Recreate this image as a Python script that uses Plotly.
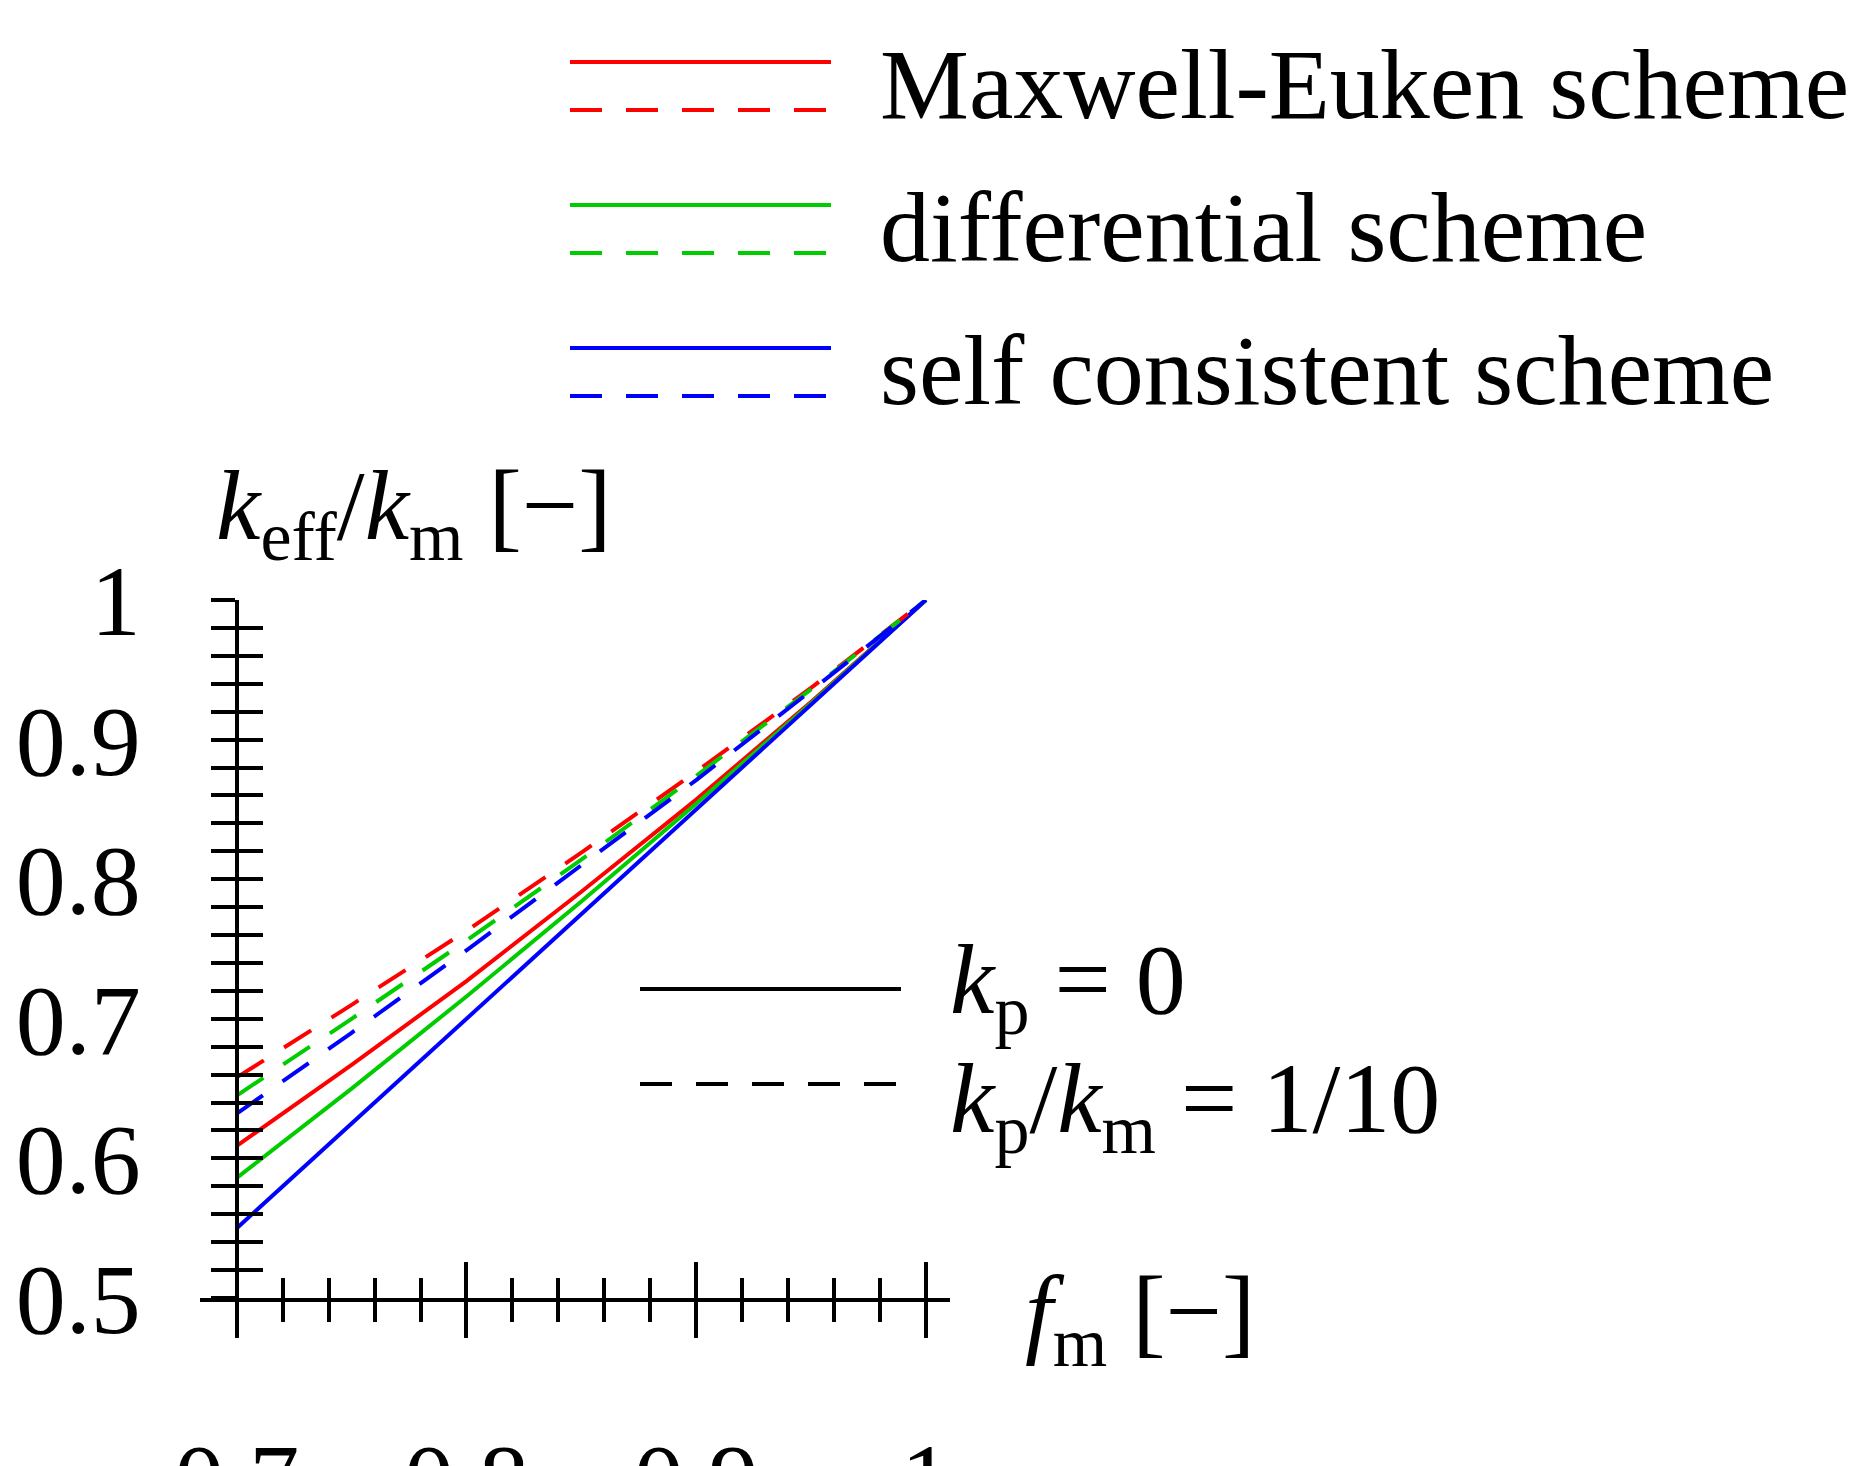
import plotly.graph_objects as go

f_m = [0.7, 0.75, 0.8, 0.85, 0.9, 0.95, 1.0]
me_k0 = [0.609, 0.667, 0.727, 0.791, 0.857, 0.927, 1.0]
diff_k0 = [0.586, 0.650, 0.716, 0.784, 0.854, 0.926, 1.0]
sc_k0 = [0.550, 0.625, 0.700, 0.775, 0.850, 0.925, 1.0]
me_k01 = [0.658, 0.710, 0.763, 0.819, 0.877, 0.937, 1.0]
diff_k01 = [0.645, 0.700, 0.756, 0.814, 0.874, 0.936, 1.0]
sc_k01 = [0.632, 0.690, 0.749, 0.810, 0.871, 0.935, 1.0]
x_ticks = [0.7, 0.8, 0.9, 1.0]
x_ticklabels = ["0.7", "0.8", "0.9", "1"]
y_ticks = [0.5, 0.6, 0.7, 0.8, 0.9, 1.0]
y_ticklabels = ["0.5", "0.6", "0.7", "0.8", "0.9", "1"]

RED, GREEN, BLUE = "#ff0000", "#00cc00", "#0000ff"
DASH = "32px,24px"
FONT = "Liberation Serif"
W, H = 1873, 1466
L, R, T, B = 192, 942, 592, 1290
XR = [0.684, 1.0105]
LW = 4

def px(x):
    return (x - L) / (R - L)

def py(y):
    return (B - y) / (B - T)

fig = go.Figure()
series = [(me_k0, RED, "solid"), (diff_k0, GREEN, "solid"), (sc_k0, BLUE, "solid"),
          (me_k01, RED, DASH), (diff_k01, GREEN, DASH), (sc_k01, BLUE, DASH)]
for ys, c, d in series:
    fig.add_trace(go.Scatter(x=f_m, y=ys, mode="lines",
                             line=dict(color=c, width=LW, dash=d), showlegend=False))
fig.add_trace(go.Scatter(x=[0.7], y=[0.5], xaxis="x2", yaxis="y2", mode="markers",
                         marker=dict(opacity=0), showlegend=False, hoverinfo="skip"))

ypos = (0.7 - XR[0]) / (XR[1] - XR[0])
common_x = dict(range=XR, showgrid=False, zeroline=False, showline=True, automargin=False,
                linecolor="black", linewidth=LW, tickcolor="black", tickwidth=LW)
common_y = dict(range=[0.5, 1.0], showgrid=False, zeroline=False, showline=True, automargin=False,
                linecolor="black", linewidth=LW, tickcolor="black", tickwidth=LW,
                anchor="free", position=ypos)

fig.update_layout(
    width=W, height=H, plot_bgcolor="white", paper_bgcolor="white",
    margin=dict(l=L, r=W - R, t=T, b=H - B, autoexpand=False),
    font=dict(family=FONT, size=100, color="black"),
    xaxis=dict(**common_x, tickvals=x_ticks, ticktext=x_ticklabels, ticks="outside",
               ticklen=36, ticklabelstandoff=55,
               minor=dict(dtick=0.02, tick0=0.7, ticks="outside", ticklen=20,
                          tickwidth=LW, tickcolor="black")),
    xaxis2=dict(**common_x, overlaying="x", side="bottom", anchor="y", ticks="inside",
                tickvals=x_ticks, ticklen=36, showticklabels=False,
                minor=dict(dtick=0.02, tick0=0.7, ticks="inside", ticklen=20,
                           tickwidth=LW, tickcolor="black")),
    yaxis=dict(**common_y, tickvals=y_ticks, ticktext=y_ticklabels, ticks="outside",
               ticklen=24, ticklabelstandoff=50,
               minor=dict(dtick=0.02, tick0=0.5, ticks="outside", ticklen=24,
                          tickwidth=LW, tickcolor="black")),
    yaxis2=dict(**common_y, overlaying="y", side="left", ticks="inside",
                tickvals=y_ticks, ticklen=24, showticklabels=False,
                minor=dict(dtick=0.02, tick0=0.5, ticks="inside", ticklen=24,
                           tickwidth=LW, tickcolor="black")),
)

def legline(x0, x1, y, color, dash):
    fig.add_shape(type="line", xref="paper", yref="paper", x0=px(x0), x1=px(x1),
                  y0=py(y), y1=py(y), line=dict(color=color, width=LW, dash=dash))

def text(x, y, s, size=100, anchor="left"):
    fig.add_annotation(xref="paper", yref="paper", x=px(x), y=py(y), text=s,
                       showarrow=False, xanchor=anchor, yanchor="middle",
                       font=dict(family=FONT, size=size, color="black"))

for i, (c, label) in enumerate([(RED, "Maxwell-Euken scheme"), (GREEN, "differential scheme"),
                                (BLUE, "self consistent scheme")]):
    y0 = 54 + i * 143
    legline(562, 823, y0, c, "solid")
    legline(562, 823, y0 + 48, c, DASH)
    text(870, y0 + 22, label)

legline(632, 893, 981, "black", "solid")
legline(632, 893, 1076, "black", DASH)
text(940, 978, "<i>k</i><sub>p</sub> = 0")
text(940, 1097, "<i>k</i><sub>p</sub>/<i>k</i><sub>m</sub> = 1/10")

text(206, 505, "<i>k</i><sub>eff</sub>/<i>k</i><sub>m</sub> [−]")
text(1015, 1310, "<i>f</i><sub>m</sub> [−]")

fig.write_html("out.html")
